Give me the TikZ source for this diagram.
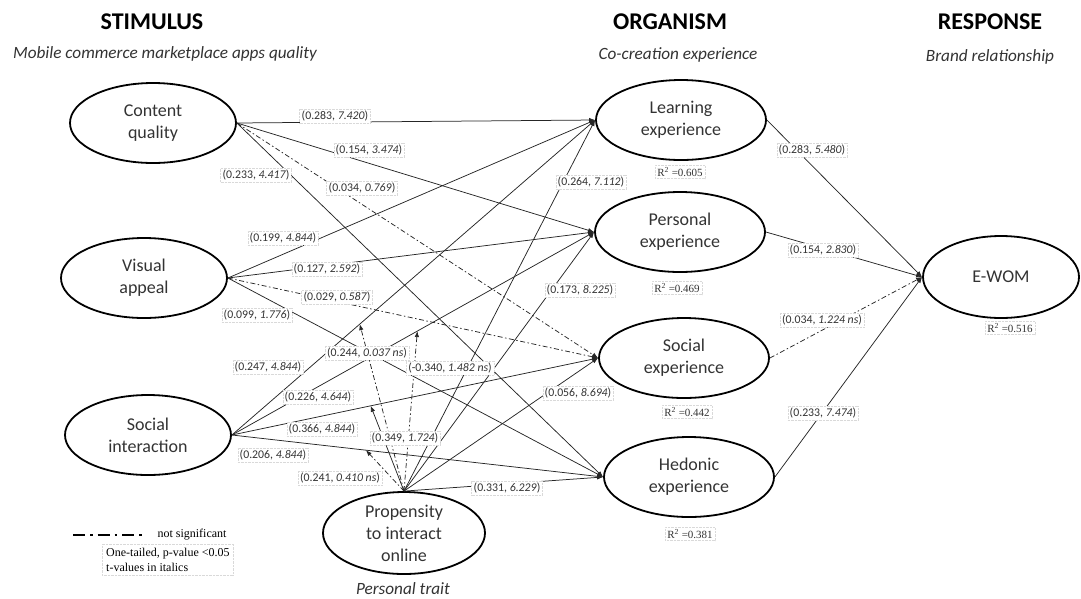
\documentclass[tikz,border=0pt]{standalone}
\usepackage{fontspec}
\setmainfont{Carlito}
\newfontfamily\timesfont{Liberation Serif}
\usetikzlibrary{arrows.meta,shapes.geometric}

\tikzset{
  construct/.style={ellipse,draw,line width=1.8pt,minimum width=166,minimum height=80,inner sep=0pt,align=center,text=black!80,font=\fontsize{18}{22}\selectfont},
  link/.style={draw=black!85,line width=0.75pt,-{Latex[length=6pt,width=4.5pt]}},
  ns/.style={dash pattern=on 5pt off 2.5pt on 1.5pt off 2.5pt},
  lbl/.style={fill=white,draw=black!15,densely dotted,inner sep=2pt,text=black!80,font=\fontsize{11.8}{13}\selectfont},
  rsq/.style={lbl,font=\timesfont\fontsize{11}{13}\selectfont},
  head/.style={font=\bfseries\fontsize{24}{28}\selectfont},
  sub/.style={text=black!80,font=\itshape\fontsize{17.2}{20}\selectfont},
}

\begin{document}
\begin{tikzpicture}[x=1pt,y=-1pt]
\useasboundingbox (0,0) rectangle (1081,598);
% headings
\node[head] (stim) at (152,22) {STIMULUS};
\node[sub] (stim-sub) at (165,54) {Mobile commerce marketplace apps quality};
\node[head] (org) at (670,22) {ORGANISM};
\node[sub] (org-sub) at (678,55) {Co-creation experience};
\node[head] (resp) at (990,22) {RESPONSE};
\node[sub] (resp-sub) at (990,57) {Brand relationship};
% stimulus
\node[construct] (cq) at (153,123) {Content\\quality};
\node[construct] (va) at (144,278) {Visual\\appeal};
\node[construct] (si) at (148,435) {Social\\interaction};
\node[construct,minimum width=162,minimum height=82,inner ysep=-3pt] (pio) at (404,533) {Propensity\\to interact\\online};
\node[sub] (trait) at (403,589) {Personal trait};
% organism
\node[construct,minimum width=170] (le) at (681,120) {Learning\\experience};
\node[construct,minimum width=170] (pe) at (680,232) {Personal\\experience};
\node[construct,minimum width=170] (se) at (684,358) {Social\\experience};
\node[construct,minimum width=170] (he) at (689,477) {Hedonic\\experience};
% response
\node[construct,minimum width=156,minimum height=82] (ew) at (1001,277) {E-WOM};

% S -> O
\draw[link] (cq.east) -- (le.west);
\draw[link] (cq.east) -- (pe.west);
\draw[link,ns] (cq.east) -- (se.west);
\draw[link] (cq.east) -- (he.west);
\draw[link] (va.east) -- (le.west);
\draw[link] (va.east) -- (pe.west);
\draw[link,ns] (va.east) -- (se.west);
\draw[link] (va.east) -- (he.west);
\draw[link] (si.east) -- (le.west) coordinate[pos=.352] (mod-le);
\draw[link] (si.east) -- (pe.west) coordinate[pos=.512] (mod-pe);
\draw[link] (si.east) -- (se.west) coordinate[pos=.379] (mod-se);
\draw[link] (si.east) -- (he.west) coordinate[pos=.361] (mod-he);
% trait -> O
\draw[link] (pio.north) -- (le.west);
\draw[link] (pio.north) -- (pe.west);
\draw[link] (pio.north) -- (se.west);
\draw[link] (pio.north) -- (he.west);
% moderation
\draw[link,ns] (pio.north) -- (mod-le);
\draw[link,ns] (pio.north) -- (mod-pe);
\draw[link] (pio.north) -- (mod-se);
\draw[link,ns] (pio.north) -- (mod-he);
% O -> R
\draw[link] (le.east) -- (ew.west);
\draw[link] (pe.east) -- (ew.west);
\draw[link,ns] (se.east) -- (ew.west);
\draw[link] (he.east) -- (ew.west);

% path labels
\node[lbl] (l-cq-le) at (335,116) {(0.283, \textit{7.420})};
\node[lbl] (l-cq-pe) at (369,150) {(0.154, \textit{3.474})};
\node[lbl] (l-cq-se) at (362,188) {(0.034, \textit{0.769})};
\node[lbl] (l-cq-he) at (256,175) {(0.233, \textit{4.417})};
\node[lbl] (l-va-le) at (283,238) {(0.199, \textit{4.844})};
\node[lbl] (l-va-pe) at (327,269) {(0.127, \textit{2.592})};
\node[lbl] (l-va-se) at (337,297) {(0.029, \textit{0.587})};
\node[lbl] (l-va-he) at (257,315) {(0.099, \textit{1.776})};
\node[lbl] (l-si-le) at (268,367) {(0.247, \textit{4.844})};
\node[lbl] (l-si-pe) at (318,397) {(0.226, \textit{4.644})};
\node[lbl] (l-si-se) at (322,429) {(0.366, \textit{4.844})};
\node[lbl] (l-si-he) at (273,455) {(0.206, \textit{4.844})};
\node[lbl] (l-pio-le) at (591,182) {(0.264, \textit{7.112})};
\node[lbl] (l-pio-pe) at (580,290) {(0.173, \textit{8.225})};
\node[lbl] (l-pio-se) at (578,393) {(0.056, \textit{8.694})};
\node[lbl] (l-pio-he) at (507,488) {(0.331, \textit{6.229})};
\node[lbl] (l-mod-le) at (367,353) {(0.244, \textit{0.037 ns})};
\node[lbl] (l-mod-pe) at (450,368) {(-0.340, \textit{1.482 ns})};
\node[lbl] (l-mod-se) at (405,438) {(0.349, \textit{1.724})};
\node[lbl] (l-mod-he) at (340,478) {(0.241, \textit{0.410 ns})};
\node[lbl] (l-le-ew) at (812,150) {(0.283, \textit{5.480})};
\node[lbl] (l-pe-ew) at (823,250) {(0.154, \textit{2.830})};
\node[lbl] (l-se-ew) at (822,320) {(0.034, \textit{1.224 ns})};
\node[lbl] (l-he-ew) at (823,413) {(0.233, \textit{7.474})};

% R squared
\node[rsq] (r-le) at (680,172) {R\textsuperscript{2} =0.605};
\node[rsq] (r-pe) at (677,288) {R\textsuperscript{2} =0.469};
\node[rsq] (r-se) at (687,412) {R\textsuperscript{2} =0.442};
\node[rsq] (r-he) at (690,534) {R\textsuperscript{2} =0.381};
\node[rsq] (r-ew) at (1010,328) {R\textsuperscript{2} =0.516};

% key
\coordinate (key-a) at (73,535);
\coordinate (key-b) at (143,535);
\draw[line width=2pt,dash pattern=on 12pt off 5pt on 2.5pt off 5pt] (key-a) -- (key-b);
\node[anchor=west,font=\timesfont\fontsize{12}{14}\selectfont] (key-ns) at (154,535) {not significant};
\node[anchor=north west,draw=black!15,densely dotted,align=left,inner sep=4pt,font=\timesfont\fontsize{12}{14.5}\selectfont] (key-note) at (102,544) {One-tailed, p-value <0.05\\t-values in italics};
\end{tikzpicture}
\end{document}
